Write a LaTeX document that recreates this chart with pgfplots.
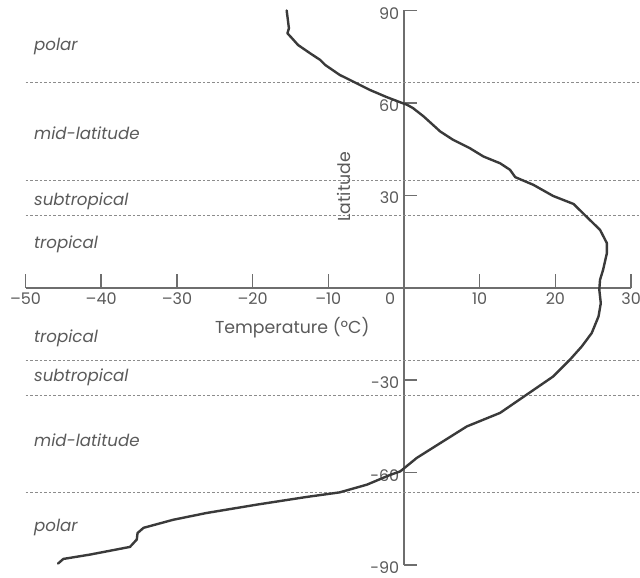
\documentclass[border=0pt]{standalone}
\usepackage{pgfplots}
\pgfplotsset{compat=1.18}
\usepackage{fontspec}
\setmainfont{Poppins}
\definecolor{axgrey}{HTML}{6E6E6E}
\definecolor{txtgrey}{HTML}{5A5A5A}
\definecolor{dashgrey}{HTML}{8C8C8C}
\definecolor{curve}{HTML}{3A3A3A}
\begin{document}
\begin{tikzpicture}
\begin{axis}[
    x=5.68pt, y=2.312pt,
    xmin=-50, xmax=30, ymin=-90, ymax=90,
    axis lines=middle,
    axis line style={-, axgrey, line width=1.1pt},
    tick style={axgrey, line width=1.1pt},
    major tick length=10pt,
    tick align=inside,
    clip=false,
    xtick={-50,-40,-30,-20,-10,10,20,30},
    xticklabels={\textendash50,\textendash40,\textendash30,\textendash20,\textendash10,10,20,30},
    ytick={-90,-60,-30,30,60,90},
    yticklabels={\mbox{-90},\mbox{-60},\mbox{-30},\mbox{30},\mbox{60},\mbox{90}},
    extra x ticks={0},
    extra x tick labels={0},
    extra x tick style={major tick length=0pt, xticklabel style={anchor=north east, xshift=-3pt}},
    ticklabel style={font=\fontsize{12}{14}\selectfont, text=txtgrey},
    yticklabel style={yshift=-2pt},
]
% climate-zone boundaries
\addplot[dashgrey, line width=0.6pt, dash pattern=on 2pt off 1.5pt] coordinates {(-50,66.5) (31.2,66.5)};
\addplot[dashgrey, line width=0.6pt, dash pattern=on 2pt off 1.5pt] coordinates {(-50,35) (31.2,35)};
\addplot[dashgrey, line width=0.6pt, dash pattern=on 2pt off 1.5pt] coordinates {(-50,23.5) (31.2,23.5)};
\addplot[dashgrey, line width=0.6pt, dash pattern=on 2pt off 1.5pt] coordinates {(-50,-23.5) (31.2,-23.5)};
\addplot[dashgrey, line width=0.6pt, dash pattern=on 2pt off 1.5pt] coordinates {(-50,-35) (31.2,-35)};
\addplot[dashgrey, line width=0.6pt, dash pattern=on 2pt off 1.5pt] coordinates {(-50,-66.5) (31.2,-66.5)};

% temperature profile
\addplot[curve, line width=1.8pt, line join=round, line cap=round] coordinates {
    (-15.5,90) (-15.2,84.2) (-15.4,82.6) (-14.8,81) (-14.0,78.8)
    (-12.4,76.1) (-11.1,74) (-10.4,72.3) (-8.5,69.1) (-6.7,66.9)
    (-4.5,64.2) (-2.3,61.9) (-0.5,60.2) (0.4,59.4) (1.2,58.3)
    (2.6,55.6) (4.8,50.7) (6.5,48) (8.7,45.3) (10.5,42.6)
    (12.7,40.4) (14.0,38.3) (14.7,35.9) (17.1,33.4) (19.7,29.8)
    (22.4,27.2) (24.1,23.1) (25.9,18.8) (26.8,14.5) (26.8,11.2)
    (26.3,5.8) (25.9,2.6) (25.8,-0.6) (26.0,-5) (25.7,-9.3)
    (24.8,-14.7) (23.5,-19) (21.9,-23.4) (19.7,-28.8) (16.2,-34.7)
    (12.7,-40.6) (8.3,-45) (4.8,-50.4) (1.7,-55.2) (-0.5,-59.6)
    (-1.8,-60.7) (-4.9,-63.9) (-8.5,-66.4) (-12.9,-67.9) (-19.5,-70.4)
    (-26.1,-73.1) (-30.5,-75.3) (-34.4,-77.9) (-35.2,-79.6) (-35.3,-81.7)
    (-36.2,-84.1) (-41.5,-86.6) (-45,-88) (-45.7,-89.5)
};

\begin{scope}[every node/.style={font=\fontsize{12.5}{14}\selectfont\itshape, text=txtgrey, anchor=base west, inner sep=0pt}]
\node at (axis cs:-48.9,76.9) {polar};
\node at (axis cs:-48.9,48.2) {mid-latitude};
\node at (axis cs:-48.9,26.6) {subtropical};
\node at (axis cs:-48.9,12.9) {tropical};
\node at (axis cs:-48.9,-17.7) {tropical};
\node at (axis cs:-48.9,-30.4) {subtropical};
\node at (axis cs:-48.9,-51.5) {mid-latitude};
\node at (axis cs:-48.9,-79.2) {polar};
\end{scope}
\node[font=\fontsize{13}{15}\selectfont, text=txtgrey, anchor=base west, inner sep=0pt] at (axis cs:-25,-14.7) {Temperature (ºC)};
\node[font=\fontsize{13}{15}\selectfont, text=txtgrey, anchor=base west, inner sep=0pt, rotate=90] at (axis cs:-7.13,21.4) {Latitude};

\coordinate (bl) at (axis cs:-53.37,-94.06);
\coordinate (tr) at (axis cs:31.18,93.4);
\end{axis}
\pgfresetboundingbox
\path (bl) rectangle (tr);
\end{tikzpicture}
\end{document}
